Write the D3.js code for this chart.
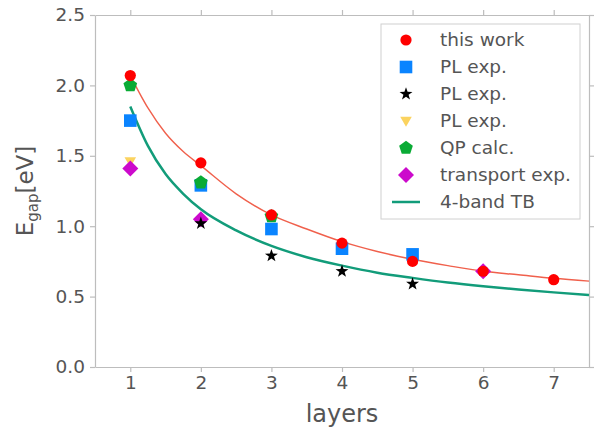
<!DOCTYPE html>
<html>
<head>
<meta charset="utf-8">
<script src="https://cdn.jsdelivr.net/npm/d3@7"></script>
<style>
  body { margin: 0; background: #fff; }
  svg { display: block; }
  text { font-family: "DejaVu Sans", sans-serif; fill: #555; }
</style>
</head>
<body>
<script>
// values
var layers = [1, 2, 3, 4, 5, 6, 7];
var thisWork = [2.07, 1.45, 1.08, 0.88, 0.75, 0.68, 0.62];

var plSquareX = [1, 2, 3, 4, 5];
var plSquareY = [1.75, 1.29, 0.98, 0.84, 0.80];

var plStarX = [2, 3, 4, 5];
var plStarY = [1.02, 0.79, 0.68, 0.59];

var plTriX = [1];
var plTriY = [1.46];

var qpX = [1, 2, 3];
var qpY = [2.00, 1.31, 1.07];

var transportX = [1, 2, 6];
var transportY = [1.41, 1.05, 0.68];

// fit curve through "this work"
var fitX = [1, 1.25, 1.5, 1.75, 2, 2.5, 3, 3.5, 4, 4.5, 5, 5.5, 6, 6.5, 7, 7.5];
var fitY = [2.07, 1.84, 1.66, 1.53, 1.43, 1.23, 1.08, 0.98, 0.89, 0.82, 0.765, 0.72, 0.68, 0.655, 0.63, 0.61];

// 4-band TB curve
var tbX = [1, 1.25, 1.5, 1.75, 2, 2.5, 3, 3.5, 4, 4.5, 5, 5.5, 6, 6.5, 7, 7.5];
var tbY = [1.85, 1.57, 1.37, 1.23, 1.12, 0.97, 0.86, 0.78, 0.72, 0.67, 0.633, 0.60, 0.573, 0.55, 0.53, 0.512];

var xTicks = [1, 2, 3, 4, 5, 6, 7];
var yTicks = [0, 0.5, 1.0, 1.5, 2.0, 2.5];

var legendNames = ["this work", "PL exp.", "PL exp.", "PL exp.", "QP calc.", "transport exp.", "4-band TB"];

var W = 594, H = 428;
var m = {left: 95, right: 5, top: 15, bottom: 61};

var svg = d3.select("body").append("svg")
    .attr("width", W)
    .attr("height", H);

var x = d3.scaleLinear().domain([0.5, 7.5]).range([m.left, W - m.right]);
var y = d3.scaleLinear().domain([0, 2.5]).range([H - m.bottom, m.top]);

var axisCol = "#bdbdbd";

function styleAxis(g) {
    g.selectAll("path").attr("stroke", axisCol).attr("stroke-width", 1.2);
    g.selectAll("line").attr("stroke", axisCol).attr("stroke-width", 1.2);
}

// axes on all four sides, ticks outward
var gx = svg.append("g")
    .attr("transform", "translate(0," + y(0) + ")")
    .call(d3.axisBottom(x).tickValues(xTicks).tickFormat(d3.format("d")).tickSizeInner(5).tickSizeOuter(0).tickPadding(4));
gx.call(styleAxis);
gx.selectAll("text").attr("font-size", 18.5).attr("fill", "#555")
    .style("font-family", "DejaVu Sans");

var gxt = svg.append("g")
    .attr("transform", "translate(0," + y(2.5) + ")")
    .call(d3.axisTop(x).tickValues(xTicks).tickFormat("").tickSizeInner(5).tickSizeOuter(0));
gxt.call(styleAxis);

var gy = svg.append("g")
    .attr("transform", "translate(" + x(0.5) + ",0)")
    .call(d3.axisLeft(y).tickValues(yTicks).tickFormat(d3.format(".1f")).tickSizeInner(5).tickSizeOuter(0).tickPadding(5));
gy.call(styleAxis);
gy.selectAll("text").attr("font-size", 18.5).attr("fill", "#555")
    .style("font-family", "DejaVu Sans");

var gyr = svg.append("g")
    .attr("transform", "translate(" + x(7.5) + ",0)")
    .call(d3.axisRight(y).tickValues(yTicks).tickFormat("").tickSizeInner(5).tickSizeOuter(0));
gyr.call(styleAxis);

// axis labels
svg.append("text")
    .attr("x", (x(0.5) + x(7.5)) / 2)
    .attr("y", 422)
    .attr("text-anchor", "middle")
    .attr("font-size", 24)
    .text("layers");

var yl = svg.append("text")
    .attr("transform", "translate(33," + 191 + ") rotate(-90)")
    .attr("text-anchor", "middle")
    .attr("font-size", 23);
yl.append("tspan").text("E");
yl.append("tspan").attr("font-size", 15).attr("dy", 5).text("gap");
yl.append("tspan").attr("dy", -5).text("[eV]");

// curves
var line = d3.line().curve(d3.curveMonotoneX)
    .x(function(d) { return x(d[0]); })
    .y(function(d) { return y(d[1]); });

svg.append("path")
    .datum(d3.zip(fitX, fitY))
    .attr("d", line)
    .attr("fill", "none")
    .attr("stroke", "#f0604c")
    .attr("stroke-width", 1.4);

svg.append("path")
    .datum(d3.zip(tbX, tbY))
    .attr("d", line)
    .attr("fill", "none")
    .attr("stroke", "#129c7a")
    .attr("stroke-width", 2.5);

// marker shapes
function polyPath(n, R, rot) {
    var pts = [];
    for (var i = 0; i < n; i++) {
        var a = rot + i * 2 * Math.PI / n;
        pts.push([R * Math.sin(a), -R * Math.cos(a)]);
    }
    return "M" + pts.map(function(p) { return p.join(","); }).join("L") + "Z";
}
function starPath(R, r) {
    var pts = [];
    for (var i = 0; i < 10; i++) {
        var rr = i % 2 == 0 ? R : r;
        var a = i * Math.PI / 5;
        pts.push([rr * Math.sin(a), -rr * Math.cos(a)]);
    }
    return "M" + pts.map(function(p) { return p.join(","); }).join("L") + "Z";
}

var shapes = {
    circle: d3.symbol().type(d3.symbolCircle).size(Math.PI * 5.6 * 5.6)(),
    square: "M-6.3,-6.3L6.3,-6.3L6.3,6.3L-6.3,6.3Z",
    star: starPath(6.8, 2.7),
    tri: "M-5.8,-4.2L5.8,-4.2L0,5.8Z",
    pent: polyPath(5, 7.2, 0),
    diamond: "M0,-8L8,0L0,8L-8,0Z"
};

var series = [
    {xs: plSquareX, ys: plSquareY, shape: "square", color: "#0a84ff"},
    {xs: plTriX, ys: plTriY, shape: "tri", color: "#fbd35f"},
    {xs: qpX, ys: qpY, shape: "pent", color: "#0aab35"},
    {xs: transportX, ys: transportY, shape: "diamond", color: "#cc0acc"},
    {xs: plStarX, ys: plStarY, shape: "star", color: "#000000"},
    {xs: layers, ys: thisWork, shape: "circle", color: "#ff0000"}
];

series.forEach(function(s) {
    svg.append("g").selectAll("path")
        .data(d3.zip(s.xs, s.ys))
        .enter().append("path")
        .attr("d", shapes[s.shape])
        .attr("transform", function(d) { return "translate(" + x(d[0]) + "," + y(d[1]) + ")"; })
        .attr("fill", s.color);
});

// legend
var leg = svg.append("g");
leg.append("rect")
    .attr("x", 381).attr("y", 24)
    .attr("width", 199).attr("height", 195)
    .attr("fill", "#fff").attr("fill-opacity", 0.85)
    .attr("stroke", "#d0d0d0").attr("stroke-width", 1);

var legItems = [
    {shape: "circle", color: "#ff0000"},
    {shape: "square", color: "#0a84ff"},
    {shape: "star", color: "#000000"},
    {shape: "tri", color: "#fbd35f"},
    {shape: "pent", color: "#0aab35"},
    {shape: "diamond", color: "#cc0acc"},
    {line: true, color: "#129c7a"}
];

legItems.forEach(function(it, i) {
    var cy = 40 + i * 27;
    if (it.line) {
        leg.append("line")
            .attr("x1", 392).attr("x2", 420)
            .attr("y1", cy).attr("y2", cy)
            .attr("stroke", it.color).attr("stroke-width", 2.5);
    } else {
        leg.append("path")
            .attr("d", shapes[it.shape])
            .attr("transform", "translate(406," + cy + ")")
            .attr("fill", it.color);
    }
    leg.append("text")
        .attr("x", 440).attr("y", cy)
        .attr("dy", "0.35em")
        .attr("font-size", 18.5)
        .attr("fill", "#222")
        .text(legendNames[i]);
});
</script>
</body>
</html>
